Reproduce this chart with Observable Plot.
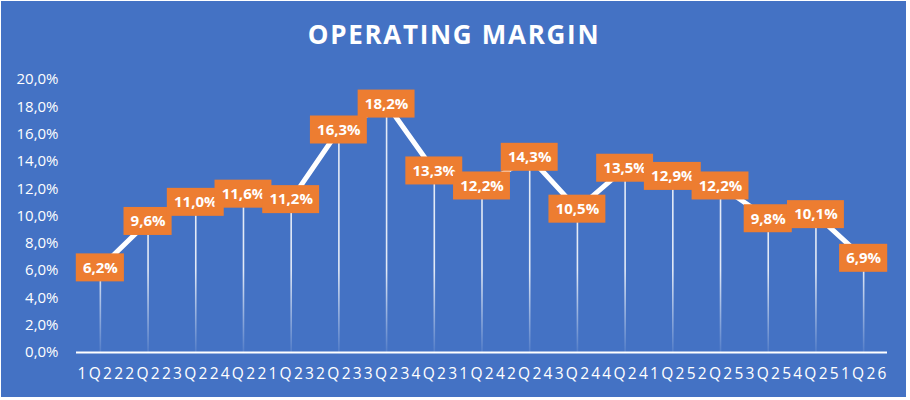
<!DOCTYPE html>
<html>
<head>
<meta charset="utf-8">
<script src="https://cdn.jsdelivr.net/npm/d3@7"></script>
<script src="https://cdn.jsdelivr.net/npm/@observablehq/plot@0.6"></script>
<style>
  html, body { margin: 0; padding: 0; background: #ffffff; }
  #wrap { position: relative; width: 910px; height: 400px; overflow: hidden; }
  #bg { position: absolute; left: 1px; top: 1px; width: 905px; height: 396px; background: #4472C4; }
  #title { position: absolute; left: 0; width: 908px; top: 16px; text-align: center;
           font-family: "Open Sans", sans-serif; font-weight: 700; font-size: 26px;
           letter-spacing: 1.7px; color: #ffffff; line-height: 36px; }
  #chart { position: absolute; left: 0; top: 0; }
</style>
</head>
<body>
<div id="wrap">
  <div id="bg"></div>
  <div id="title">OPERATING MARGIN</div>
  <div id="chart"></div>
</div>
<script>
const quarters = ["1Q22","2Q22","3Q22","4Q22","1Q23","2Q23","3Q23","4Q23","1Q24","2Q24","3Q24","4Q24","1Q25","2Q25","3Q25","4Q25","1Q26"];
const margins = [6.2, 9.6, 11.0, 11.6, 11.2, 16.3, 18.2, 13.3, 12.2, 14.3, 10.5, 13.5, 12.9, 12.2, 9.8, 10.1, 6.9];
const yTicks = [0, 2, 4, 6, 8, 10, 12, 14, 16, 18, 20];

const fmt = v => v.toFixed(1).replace(".", ",") + "%";
const data = quarters.map((q, i) => ({q, v: margins[i], label: fmt(margins[i])}));

const labelMarks = data.flatMap(d => {
  const w = d.label.length > 4 ? -4.6 : -0.2;
  return [
    Plot.barY([d], {x: "q", y1: "v", y2: "v", fill: "#ED7D31",
      insetTop: -14, insetBottom: -14, insetLeft: w, insetRight: w}),
    Plot.text([d], {x: "q", y: "v", text: "label", fill: "white",
      fontWeight: "bold", fontSize: 15})
  ];
});

const chart = Plot.plot({
  width: 910,
  height: 400,
  marginLeft: 76,
  marginRight: 23,
  marginTop: 79,
  marginBottom: 48,
  style: {background: "transparent", color: "white", fontFamily: "Open Sans, sans-serif", fontSize: "15px", overflow: "visible"},
  x: {type: "band", domain: quarters, padding: 0, round: false},
  y: {domain: [0, 20]},
  marks: [
    Plot.axisY({ticks: yTicks, tickFormat: fmt, tickSize: 0, tickPadding: 18, fontSize: 15, label: null, fill: "white"}),
    Plot.axisX({tickSize: 0, tickPadding: 15, fontSize: 15.5, label: null, fill: "white"}),
    Plot.ruleX(data, {x: "q", y1: 0, y2: "v", stroke: "url(#fade)", strokeWidth: 1.6}),
    Plot.ruleY([0], {stroke: "white", strokeWidth: 2.2}),
    Plot.line(data, {x: "q", y: "v", stroke: "white", strokeWidth: 5, strokeLinejoin: "round"}),
    ...labelMarks
  ]
});

const svg = d3.select(chart);
const defs = svg.insert("defs", ":first-child");
const g = defs.append("linearGradient").attr("id", "fade")
  .attr("gradientUnits", "userSpaceOnUse")
  .attr("x1", 0).attr("x2", 0).attr("y1", 270).attr("y2", 352);
g.append("stop").attr("offset", 0).attr("stop-color", "#ffffff").attr("stop-opacity", 0.85);
g.append("stop").attr("offset", 1).attr("stop-color", "#ffffff").attr("stop-opacity", 0.08);

svg.selectAll('[aria-label="x-axis tick label"] text')
  .style("letter-spacing", "2.3px")
  .attr("dx", "1.15px");

document.getElementById("chart").appendChild(chart);
</script>
</body>
</html>
